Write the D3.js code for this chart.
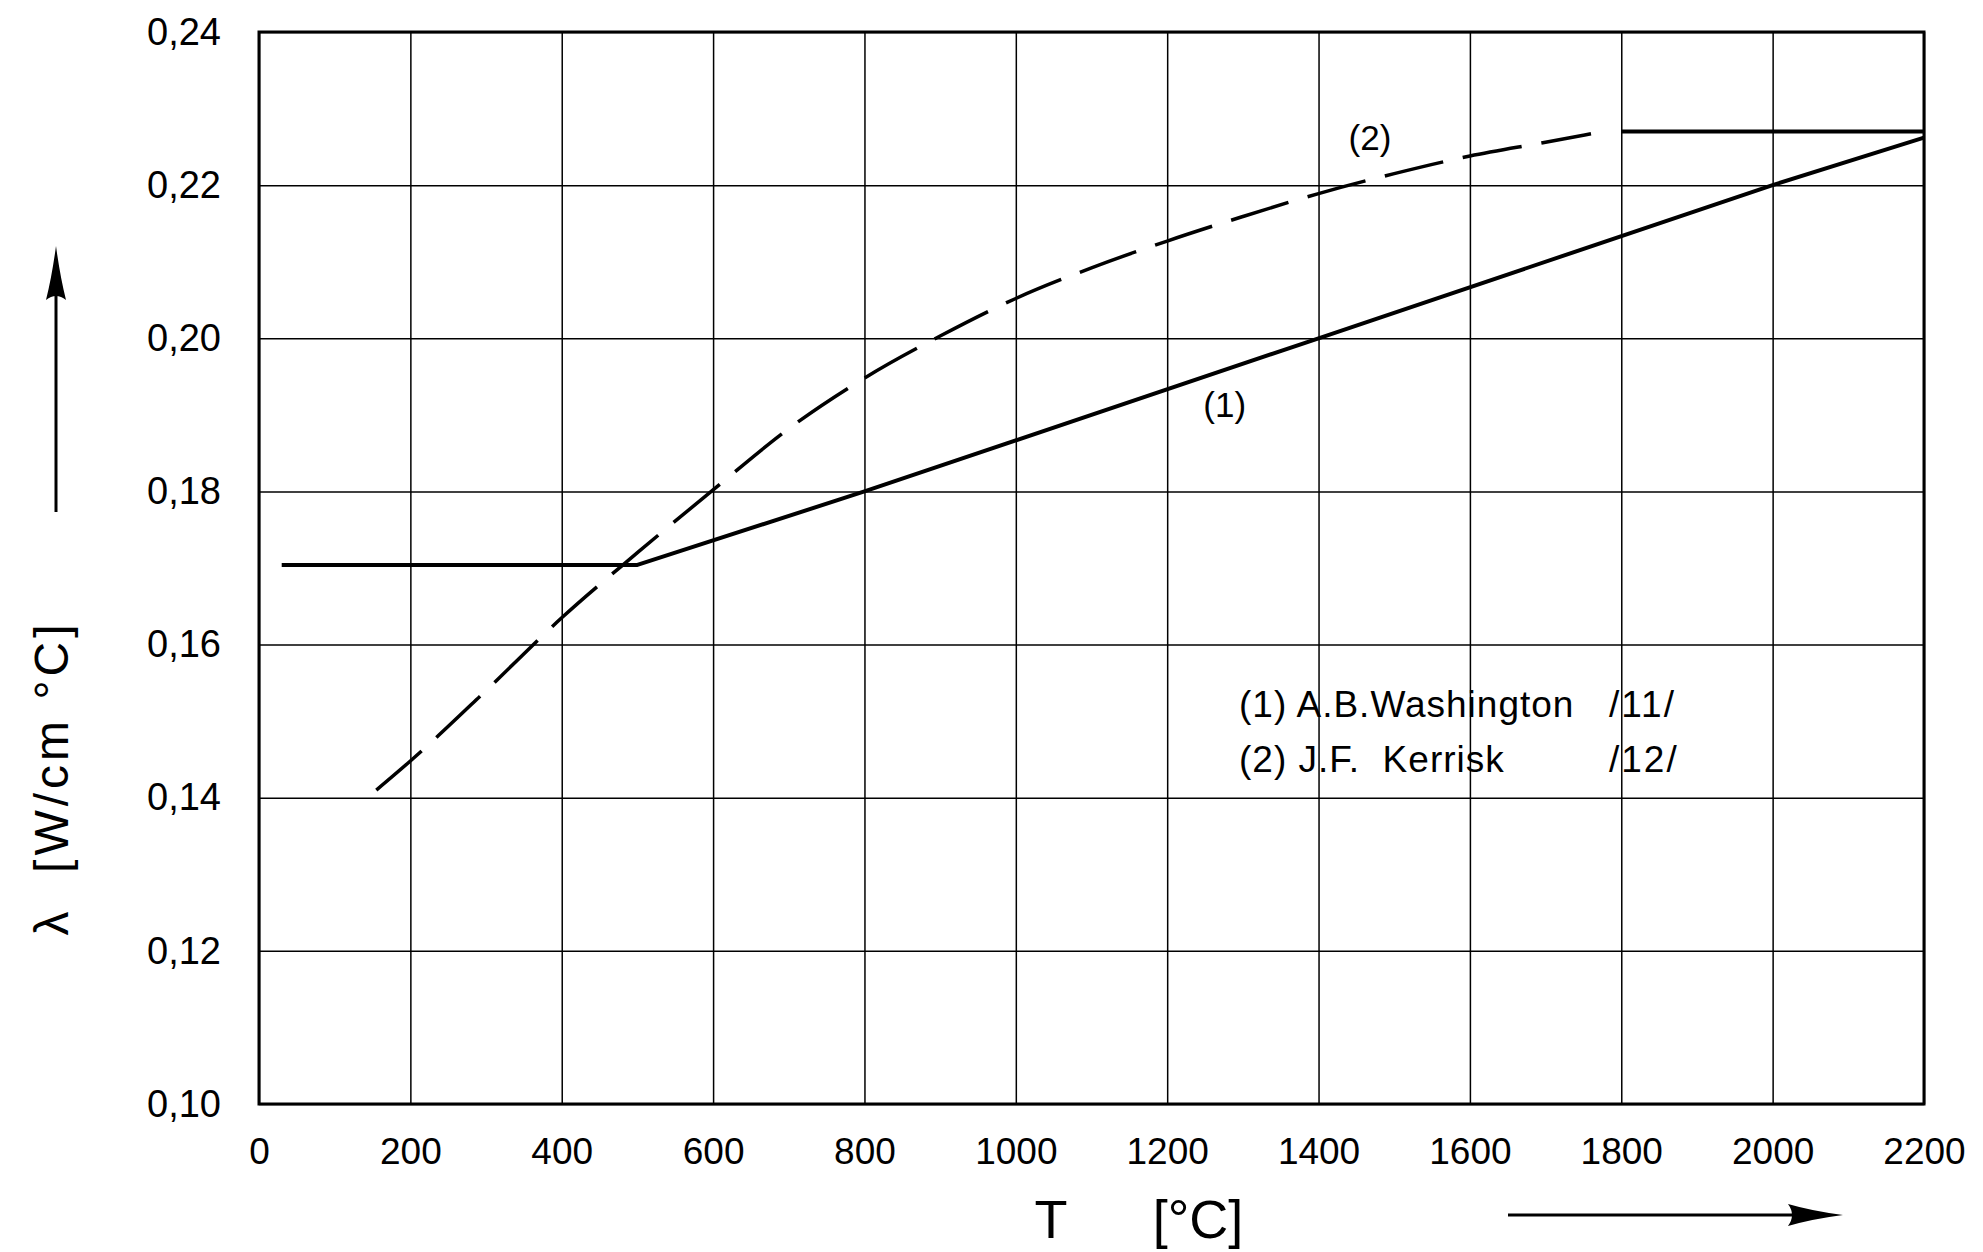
<!DOCTYPE html>
<html>
<head>
<meta charset="utf-8">
<script src="https://cdn.jsdelivr.net/npm/d3@7"></script>
<style>
  body { margin: 0; background: #fff; }
  svg { display: block; }
  text { font-family: "Liberation Sans", Arial, sans-serif; fill: #000; }
</style>
</head>
<body>
<div id="chart"></div>
<script>
// axis ticks
const tempTicks = [0, 200, 400, 600, 800, 1000, 1200, 1400, 1600, 1800, 2000, 2200];
const lambdaTicks = [0.10, 0.12, 0.14, 0.16, 0.18, 0.20, 0.22, 0.24];
const lambdaTickLabels = ["0,10", "0,12", "0,14", "0,16", "0,18", "0,20", "0,22", "0,24"];

// (1) A.B. Washington, solid
const washingtonTemp = [30, 500, 800, 1400, 2000, 2200];
const washingtonLambda = [0.1704, 0.1704, 0.180, 0.200, 0.220, 0.2262];

// (2) J.F. Kerrisk, dashed
const kerriskTemp = [155, 200, 300, 400, 500, 600, 700, 800, 900, 1000, 1100, 1200, 1300, 1400, 1500, 1600, 1700, 1760];
const kerriskLambda = [0.141, 0.1448, 0.1540, 0.1635, 0.1720, 0.1802, 0.1882, 0.1948, 0.2003, 0.2052, 0.2092, 0.2127, 0.2159, 0.2189, 0.2215, 0.2238, 0.2256, 0.2267];

// solid plateau at the top right
const plateauTemp = [1800, 2200];
const plateauLambda = [0.227, 0.227];

const legendKeys = ["(1)", "(2)"];
const legendNames = ["A.B.Washington", "J.F.  Kerrisk"];
const legendRefs = ["/11/", "/12/"];

const W = 1983, H = 1252;
const margin = { top: 32, left: 259, right: 59, bottom: 148 };
const w = W - margin.left - margin.right;
const h = H - margin.top - margin.bottom;

const svg = d3.select("#chart").append("svg")
  .attr("width", W)
  .attr("height", H)
  .style("background", "#fff");

const g = svg.append("g")
  .attr("transform", `translate(${margin.left},${margin.top})`);

const x = d3.scaleLinear().domain([0, 2200]).range([0, w]);
const y = d3.scaleLinear().domain([0.10, 0.24]).range([h, 0]);

// grid + tick labels
const xAxis = g.append("g")
  .attr("transform", `translate(0,${h})`)
  .call(d3.axisBottom(x).tickValues(tempTicks).tickSize(-h).tickPadding(34).tickFormat(d3.format("d")));
xAxis.select(".domain").remove();
xAxis.selectAll("line").attr("stroke", "#000").attr("stroke-width", 1.5);
xAxis.selectAll("text").attr("font-size", 37).attr("fill", "#000");

const yAxis = g.append("g")
  .call(d3.axisLeft(y).tickValues(lambdaTicks).tickSize(-w).tickPadding(38)
    .tickFormat((d, i) => lambdaTickLabels[i]));
yAxis.select(".domain").remove();
yAxis.selectAll("line").attr("stroke", "#000").attr("stroke-width", 1.5);
yAxis.selectAll("text").attr("font-size", 38).attr("fill", "#000");

// frame
g.append("rect")
  .attr("width", w)
  .attr("height", h)
  .attr("fill", "none")
  .attr("stroke", "#000")
  .attr("stroke-width", 3);

const toPoints = (ts, ls) => ts.map((t, i) => [t, ls[i]]);

const straight = d3.line().x(d => x(d[0])).y(d => y(d[1]));
const smooth = d3.line().x(d => x(d[0])).y(d => y(d[1])).curve(d3.curveMonotoneX);

g.append("path")
  .attr("d", straight(toPoints(washingtonTemp, washingtonLambda)))
  .attr("fill", "none")
  .attr("stroke", "#000")
  .attr("stroke-width", 4)
  .attr("stroke-linejoin", "round");

g.append("path")
  .attr("d", smooth(toPoints(kerriskTemp, kerriskLambda)))
  .attr("fill", "none")
  .attr("stroke", "#000")
  .attr("stroke-width", 3.5)
  .attr("stroke-dasharray", "60 20");

g.append("path")
  .attr("d", straight(toPoints(plateauTemp, plateauLambda)))
  .attr("fill", "none")
  .attr("stroke", "#000")
  .attr("stroke-width", 4);

// curve labels
g.append("text")
  .attr("x", x(1276)).attr("y", y(0.1897))
  .attr("text-anchor", "middle")
  .attr("font-size", 35)
  .text(legendKeys[0]);
g.append("text")
  .attr("x", x(1468)).attr("y", y(0.2246))
  .attr("text-anchor", "middle")
  .attr("font-size", 35)
  .text(legendKeys[1]);

// legend
const legend = g.append("g").attr("class", "legend");
legendKeys.forEach((k, i) => {
  const ly = 685 + i * 55;
  legend.append("text")
    .attr("x", 980).attr("y", ly)
    .attr("font-size", 37)
    .attr("letter-spacing", 1)
    .attr("xml:space", "preserve")
    .text(`${k} ${legendNames[i]}`);
  legend.append("text")
    .attr("x", 1350).attr("y", ly)
    .attr("font-size", 37)
    .attr("letter-spacing", 2)
    .text(legendRefs[i]);
});

// axis titles
svg.append("text")
  .attr("x", 1051).attr("y", 1238)
  .attr("text-anchor", "middle")
  .attr("font-size", 54)
  .text("T");
svg.append("text")
  .attr("x", 1198).attr("y", 1238)
  .attr("text-anchor", "middle")
  .attr("font-size", 54)
  .text("[°C]");

svg.append("text")
  .attr("transform", "translate(68,778) rotate(-90)")
  .attr("text-anchor", "middle")
  .attr("font-size", 48)
  .attr("letter-spacing", 4)
  .attr("xml:space", "preserve")
  .text("λ  [W/cm °C]");

// direction arrows
svg.append("line")
  .attr("x1", 1508).attr("y1", 1215).attr("x2", 1800).attr("y2", 1215)
  .attr("stroke", "#000").attr("stroke-width", 3);
svg.append("path")
  .attr("d", "M1788,1204 Q1812,1211 1843,1215 Q1812,1219 1788,1226 Q1796,1215 1788,1204 Z")
  .attr("fill", "#000");

svg.append("line")
  .attr("x1", 56).attr("y1", 512).attr("x2", 56).attr("y2", 290)
  .attr("stroke", "#000").attr("stroke-width", 3);
svg.append("path")
  .attr("d", "M46,300 Q52,276 56,246 Q60,276 66,300 Q56,292 46,300 Z")
  .attr("fill", "#000");
</script>
</body>
</html>
